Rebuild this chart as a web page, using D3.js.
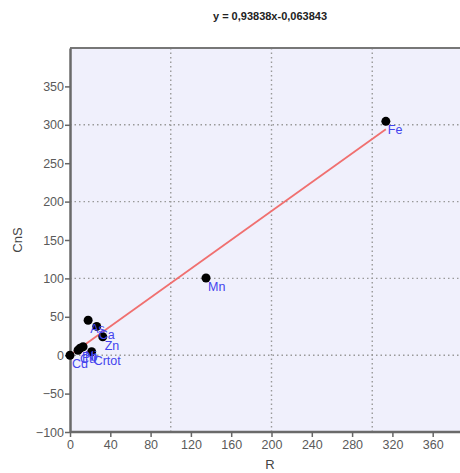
<!DOCTYPE html>
<html>
<head>
<meta charset="utf-8">
<script src="https://cdn.jsdelivr.net/npm/d3@7"></script>
<style>
body { margin: 0; background: #fff; overflow: hidden; }
text { font-family: "Liberation Sans", Arial, sans-serif; }
</style>
</head>
<body>
<div id="chart"></div>
<script>
// element points: R vs CnS
var names = ["Fe", "Mn", "As", "Ca", "Zn", "Ni", "Pb", "Cu", "Crtot", "Cd"];
var rVals = [313.5, 135, 18, 26.5, 32.5, 13, 10, 8, 21.5, 0];
var cnsVals = [304.5, 100.5, 45.5, 37.5, 24, 11, 9, 6.5, 4.5, 0];
var slope = 0.93838, intercept = -0.063843;
var xTicks = [0, 40, 80, 120, 160, 200, 240, 280, 320, 360];
var yTicks = [-100, -50, 0, 50, 100, 150, 200, 250, 300, 350];
var xGrid = [100, 200, 300];
var yGrid = [0, 100, 200, 300];

var width = 460, height = 473;
var mLeft = 70, mTop = 48, mBottom = 432;

var svg = d3.select("#chart").append("svg").attr("width", width).attr("height", height);

var x = d3.scaleLinear().domain([0, 400]).range([mLeft, mLeft + 403]);
var y = d3.scaleLinear().domain([-100, 400]).range([mBottom, mTop]);

svg.append("rect").attr("x", mLeft).attr("y", mTop).attr("width", width - mLeft).attr("height", mBottom - mTop).attr("fill", "#f0f0fc");

// grid
svg.selectAll(".gx").data(xGrid).enter().append("line")
  .attr("x1", d => x(d)).attr("x2", d => x(d)).attr("y1", mTop).attr("y2", mBottom)
  .attr("stroke", "#999").attr("stroke-width", 1.4).attr("stroke-dasharray", "1.5,3");
svg.selectAll(".gy").data(yGrid).enter().append("line")
  .attr("y1", d => y(d)).attr("y2", d => y(d)).attr("x1", mLeft).attr("x2", width)
  .attr("stroke", "#999").attr("stroke-width", 1.4).attr("stroke-dasharray", "1.5,3");

// top border
svg.append("line").attr("x1", mLeft).attr("x2", width).attr("y1", mTop).attr("y2", mTop).attr("stroke", "#777").attr("stroke-width", 2);

var xAxis = svg.append("g").attr("transform", "translate(0," + mBottom + ")")
  .call(d3.axisBottom(x).tickValues(xTicks).tickSize(5).tickSizeOuter(0));
var yAxis = svg.append("g").attr("transform", "translate(" + mLeft + ",0)")
  .call(d3.axisLeft(y).tickValues(yTicks).tickSize(5).tickSizeOuter(0));
[xAxis, yAxis].forEach(function(a) {
  a.select(".domain").attr("stroke", "#6a6a6a").attr("stroke-width", 2.5);
  a.selectAll(".tick line").attr("stroke", "#666").attr("stroke-width", 1.5);
  a.selectAll(".tick text").attr("fill", "#5a5a5a").attr("font-size", 12.5);
});
xAxis.select(".domain").attr("d", "M" + mLeft + ",0H" + width);
yAxis.selectAll(".tick text").attr("dx", 2);

// regression line
var xMin = d3.min(rVals), xMax = d3.max(rVals);
svg.append("line")
  .attr("x1", x(xMin)).attr("y1", y(slope * xMin + intercept))
  .attr("x2", x(xMax)).attr("y2", y(slope * xMax + intercept))
  .attr("stroke", "#f07070").attr("stroke-width", 1.8);

var pts = names.map((n, i) => ({name: n, r: rVals[i], c: cnsVals[i]}));

svg.selectAll(".dot").data(pts).enter().append("circle")
  .attr("cx", d => x(d.r)).attr("cy", d => y(d.c)).attr("r", 4.5).attr("fill", "#000");

svg.selectAll(".lbl").data(pts).enter().append("text")
  .attr("x", d => x(d.r) + 2).attr("y", d => y(d.c) + 13)
  .attr("fill", "#4444ee").attr("font-size", 12.5).text(d => d.name);

svg.append("text").attr("x", 270).attr("y", 20).attr("text-anchor", "middle")
  .attr("font-family", "DejaVu Sans").attr("font-weight", "bold").attr("font-size", 11).attr("fill", "#222")
  .text("y = " + String(slope).replace(".", ",") + "x" + String(intercept).replace(".", ","));

svg.append("text").attr("x", 270).attr("y", 469).attr("text-anchor", "middle")
  .attr("font-size", 13).attr("fill", "#444").text("R");
svg.append("text").attr("transform", "translate(22,240) rotate(-90)").attr("text-anchor", "middle")
  .attr("font-size", 13).attr("fill", "#444").text("CnS");
</script>
</body>
</html>
